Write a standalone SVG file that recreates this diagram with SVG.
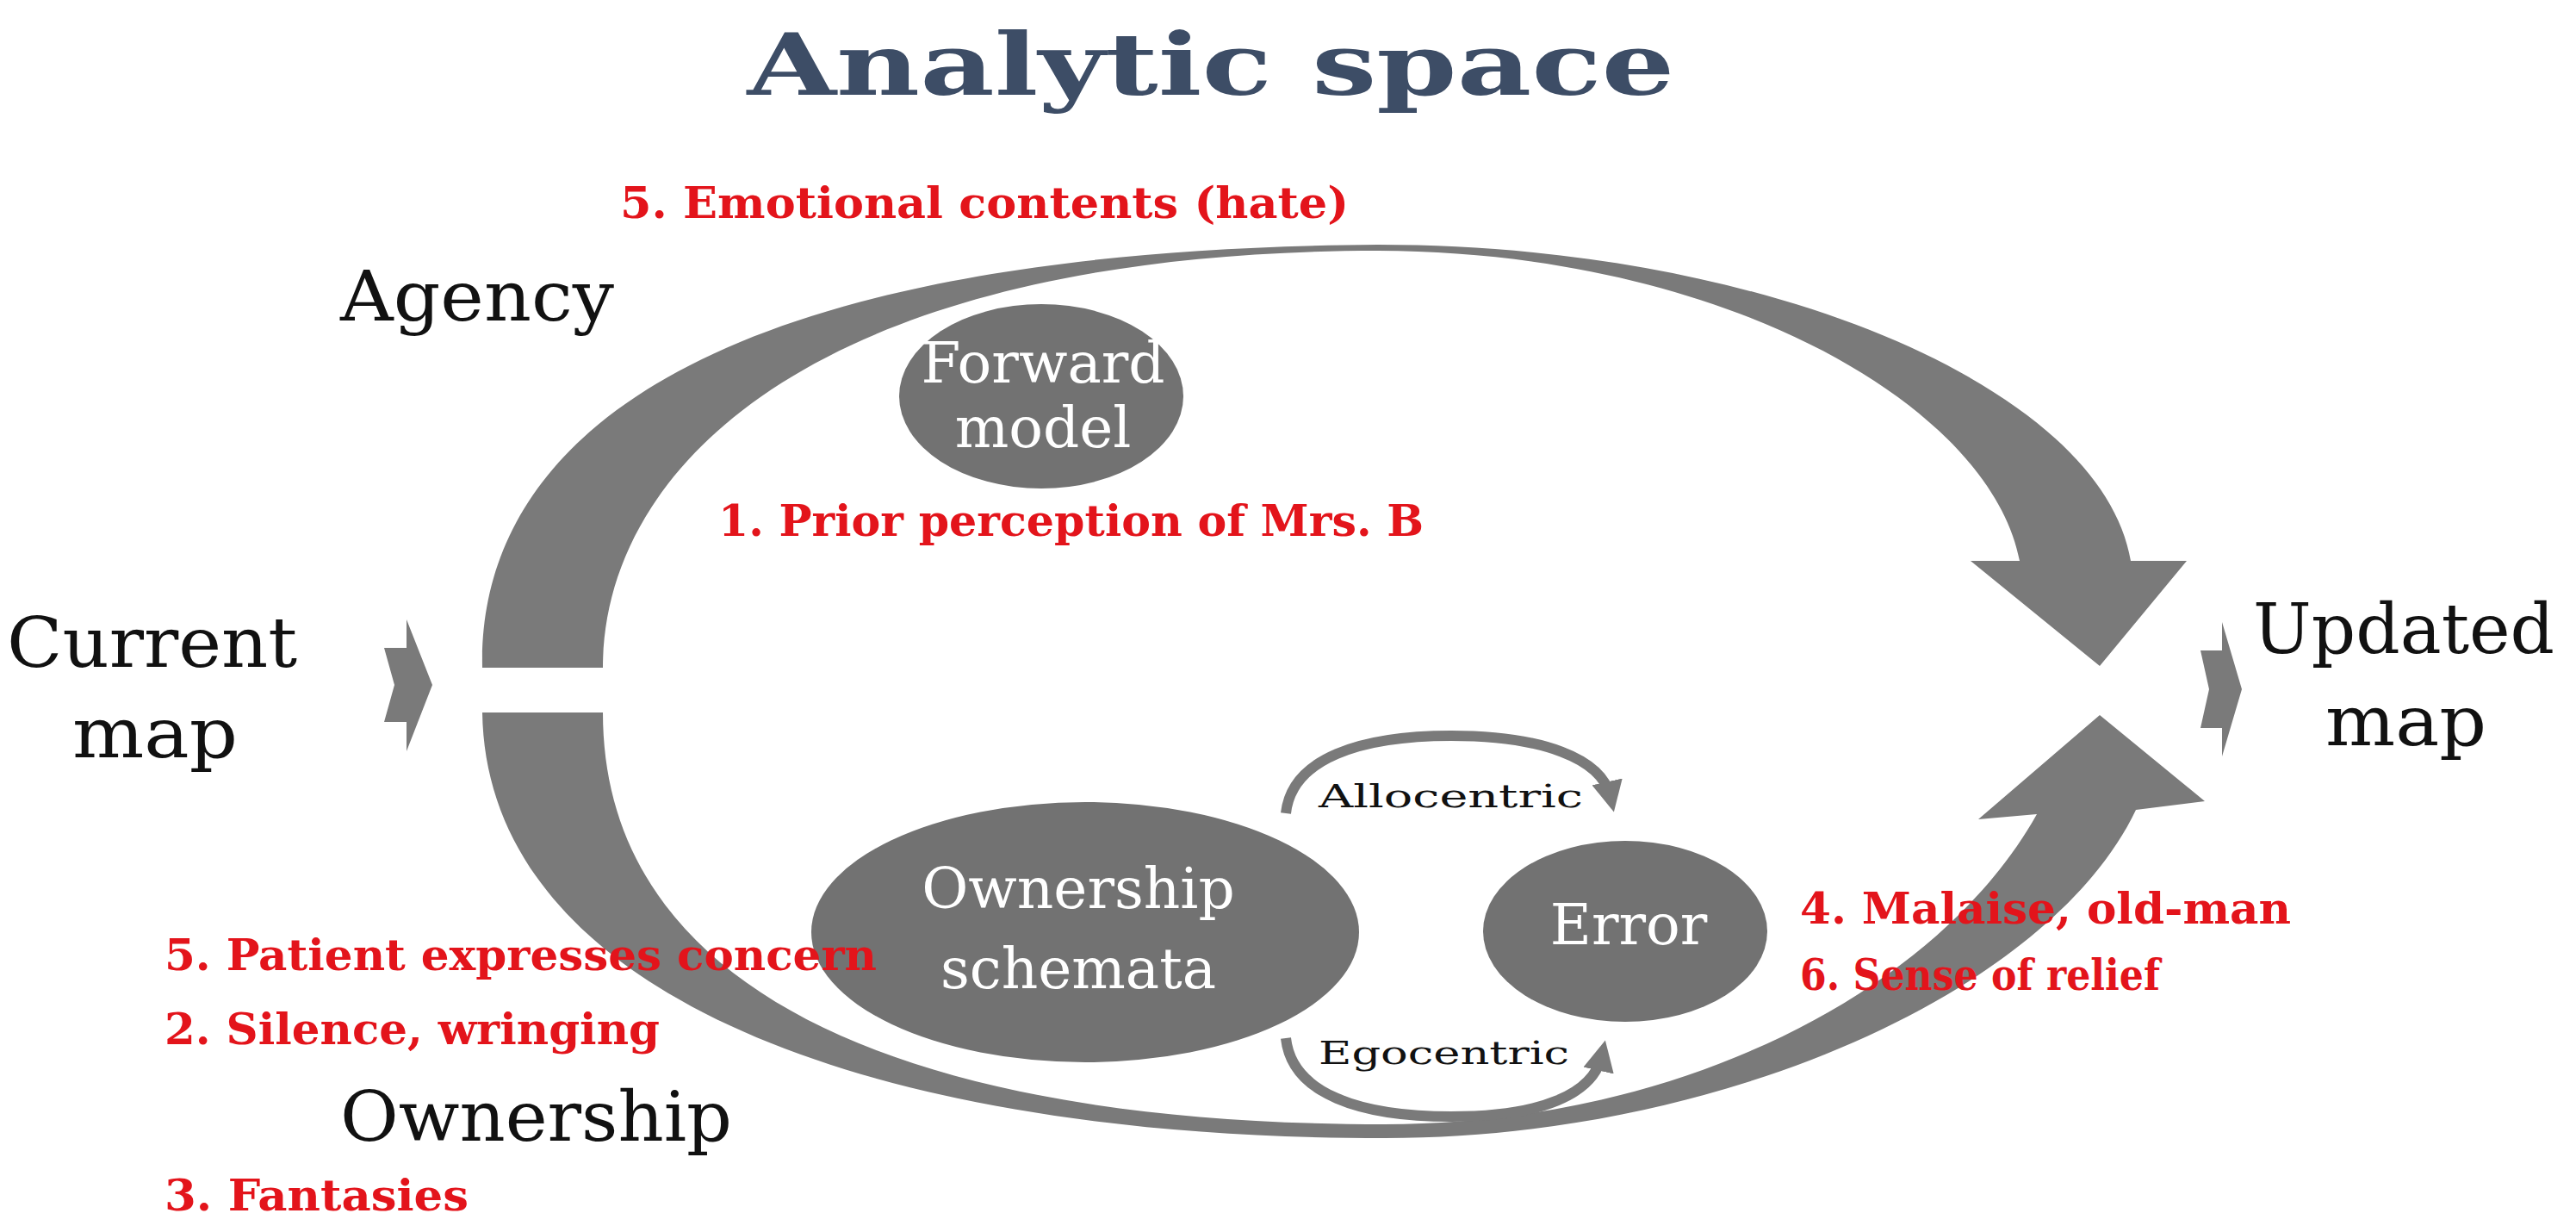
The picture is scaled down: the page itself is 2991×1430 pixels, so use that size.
<svg xmlns="http://www.w3.org/2000/svg" width="2991" height="1430" viewBox="0 0 2991 1430">
<style>
.red{font-family:"DejaVu Serif",serif;font-weight:bold;fill:#e3141b;font-size:50px}
.blk{font-family:"DejaVu Serif","Liberation Serif",serif;fill:#111;font-size:80px}
.wht{font-family:"DejaVu Serif","Liberation Serif",serif;fill:#fff;font-size:66px;text-anchor:middle}
.sm{font-family:"DejaVu Serif","Liberation Serif",serif;fill:#111;font-size:38px}
.node{fill:#727272}
.band{fill:#7a7a7a}
.thin{fill:none;stroke:#7a7a7a;stroke-width:12}
</style>
<defs>
<marker id="ah" viewBox="0 0 10 10" refX="5" refY="5" markerWidth="3" markerHeight="3" orient="auto"><path d="M0,0 L10,5 L0,10 Z" fill="#7a7a7a"/></marker>
</defs>
<rect width="2991" height="1430" fill="#fff"/>
<text x="1406" y="110" text-anchor="middle" style="font-family:'DejaVu Serif',serif;font-weight:bold;font-size:100px;fill:#3d4d66" textLength="1077" lengthAdjust="spacingAndGlyphs">Analytic space</text>
<g id="connectors">
<path class="band" d="M560,775 C555,520 800,290 1600,284 C2050,284 2440,450 2474,651 L2539,651 L2438,773 L2288,651 L2345,651 C2310,470 2000,292 1600,291 C950,292 700,540 700,775 Z"/>
<path class="band" d="M560,827 C565,1150 1000,1321 1608,1321 C2000,1321 2380,1150 2480,940 L2560,930 L2438,830 L2297,951 L2365,945 C2250,1150 1950,1305 1608,1305 C1050,1305 700,1150 700,827 Z"/>
<polygon class="band" points="472,719 502,795 472,872 472,838 446,838 458,795 446,752 472,752"/>
<polygon class="band" points="2580,722 2603,800 2580,878 2580,845 2555,845 2565,800 2555,755 2580,755"/>
<path class="thin" d="M1493,944 C1500,880 1580,854 1685,854 C1790,854 1860,880 1870,925" marker-end="url(#ah)"/>
<path class="thin" d="M1493,1205 C1500,1270 1580,1296 1685,1296 C1790,1296 1850,1270 1860,1225" marker-end="url(#ah)"/>
</g>
<g id="forward"><ellipse class="node" cx="1209" cy="460" rx="165" ry="107"/><text class="wht" x="1211" y="444" font-size="58">Forward</text><text class="wht" x="1211" y="519" font-size="58">model</text></g>
<g id="ownership-schemata"><ellipse class="node" cx="1260" cy="1082" rx="318" ry="151"/><text class="wht" x="1252" y="1054">Ownership</text><text class="wht" x="1252" y="1147">schemata</text></g>
<g id="error"><ellipse class="node" cx="1887" cy="1081" rx="165" ry="105"/><text class="wht" x="1891" y="1096">Error</text></g>
<g id="labels">
<text class="sm" x="1531" y="937" textLength="307" lengthAdjust="spacingAndGlyphs">Allocentric</text>
<text class="sm" x="1531" y="1235" textLength="291" lengthAdjust="spacingAndGlyphs">Egocentric</text>
<text class="blk" x="395" y="372" textLength="318" lengthAdjust="spacingAndGlyphs">Agency</text>
<text class="blk" x="395" y="1324" textLength="455" lengthAdjust="spacingAndGlyphs">Ownership</text>
<text class="blk" x="8" y="774" textLength="337" lengthAdjust="spacingAndGlyphs">Current</text>
<text class="blk" x="84" y="879" textLength="192" lengthAdjust="spacingAndGlyphs">map</text>
<text class="blk" x="2616" y="758" textLength="350" lengthAdjust="spacingAndGlyphs">Updated</text>
<text class="blk" x="2700" y="865" textLength="187" lengthAdjust="spacingAndGlyphs">map</text>
<text class="red" x="720" y="253" textLength="846" lengthAdjust="spacingAndGlyphs">5. Emotional contents (hate)</text>
<text class="red" x="834" y="622" textLength="819" lengthAdjust="spacingAndGlyphs">1. Prior perception of Mrs. B</text>
<text class="red" x="191" y="1126" textLength="827" lengthAdjust="spacingAndGlyphs">5. Patient expresses concern</text>
<text class="red" x="191" y="1212" textLength="575" lengthAdjust="spacingAndGlyphs">2. Silence, wringing</text>
<text class="red" x="191" y="1405" textLength="353" lengthAdjust="spacingAndGlyphs">3. Fantasies</text>
<text class="red" x="2090" y="1072" textLength="570" lengthAdjust="spacingAndGlyphs">4. Malaise, old-man</text>
<text class="red" x="2090" y="1149" textLength="418" lengthAdjust="spacingAndGlyphs">6. Sense of relief</text>
</g>
</svg>
